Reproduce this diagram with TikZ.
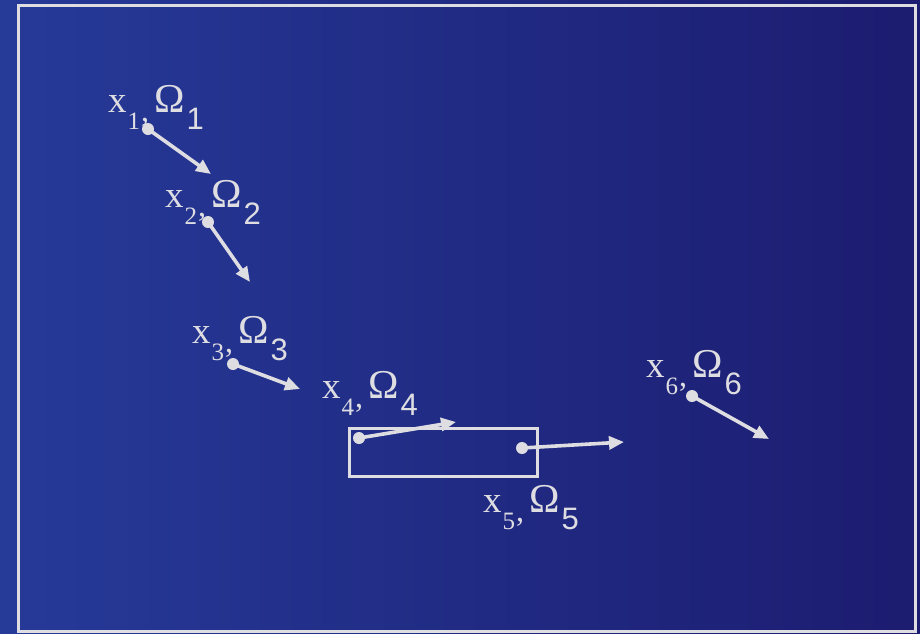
\documentclass[tikz,border=0pt]{standalone}
\usepackage{fontspec}
\setmainfont{Liberation Serif}
\newfontfamily\subf{Liberation Sans}
\usetikzlibrary{arrows.meta}
\definecolor{bgleft}{RGB}{38,58,152}
\definecolor{bgright}{RGB}{28,28,112}
\definecolor{fg}{RGB}{222,222,226}
\newcommand{\xsub}[1]{\raisebox{-17pt}{\fontsize{25}{25}\selectfont #1\kern1pt\raisebox{8pt}{\fontsize{32}{32}\selectfont ,}}}
\newcommand{\osub}[1]{\raisebox{-17pt}{\subf\fontsize{31}{31}\selectfont #1}}
\newcommand{\lbl}[1]{{\fontsize{37}{37}\selectfont x}\kern1pt\xsub{#1}\kern5pt{\fontsize{41}{41}\selectfont Ω}\kern2pt\osub{#1}}
\begin{document}
\begin{tikzpicture}[x=1pt,y=-1pt,
  lab/.style={anchor=base west,inner sep=0pt,text=fg},
  pt/.style={circle,fill=fg,inner sep=0pt,minimum size=12pt},
  arr/.style={draw=fg,line width=3.6pt,-{Triangle[length=15pt,width=13pt]}},
  boxst/.style={draw=fg,line width=3pt,inner sep=0pt}]
\useasboundingbox (0,0) rectangle (920,633);
\shade[left color=bgleft,right color=bgright] (0,0) rectangle (920,633);
\draw[fg,line width=3pt] (18.5,5.5) rectangle (915.5,631);
% labels
\node[lab] (l1) at (108,112) {\lbl{1}};
\node[lab] (l2) at (165,207) {\lbl{2}};
\node[lab] (l3) at (192,343) {\lbl{3}};
\node[lab] (l4) at (322,398) {\lbl{4}};
\node[lab] (l5) at (483,512) {\lbl{5}};
\node[lab] (l6) at (646,377) {\lbl{6}};
% box
\node[boxst,minimum width=188pt,minimum height=48pt] (box) at (443,452) {};
% points
\node[pt] (p1) at (148,129) {};
\node[pt] (p2) at (208,222) {};
\node[pt] (p3) at (233,364) {};
\node[pt] (p4) at (359,438) {};
\node[pt] (p5) at (522,448) {};
\node[pt] (p6) at (692,396) {};
% arrow ends
\coordinate (e1) at (211,174);
\coordinate (e2) at (250,282);
\coordinate (e3) at (300,389);
\coordinate (e4) at (456,422);
\coordinate (e5) at (624,442);
\coordinate (e6) at (769,439);
\foreach \i in {1,...,6} \draw[arr] (p\i.center) -- (e\i);
\end{tikzpicture}
\end{document}
